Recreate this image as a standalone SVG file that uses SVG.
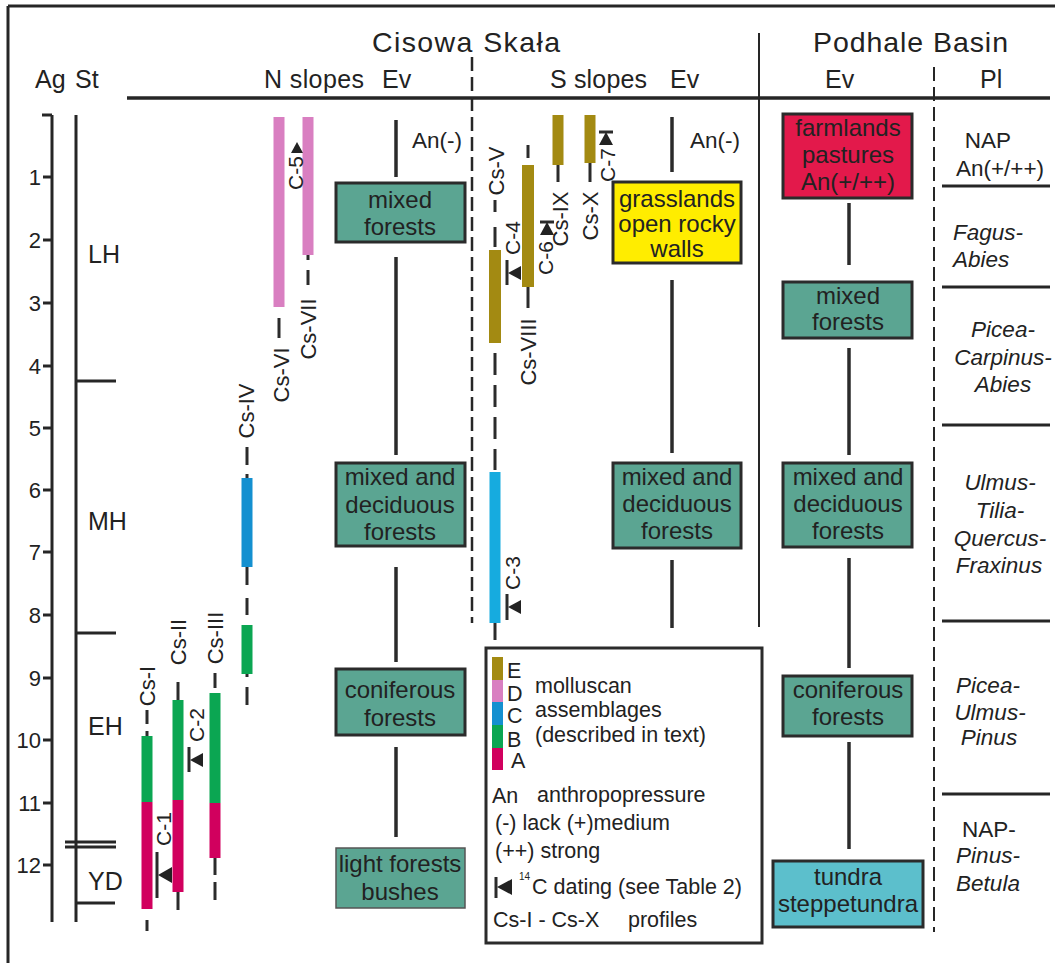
<svg xmlns="http://www.w3.org/2000/svg" width="1055" height="963" viewBox="0 0 1055 963">
<style>
text{font-family:"Liberation Sans",Arial,Helvetica,sans-serif;fill:#222}
.h1{font-size:28.5px}
.h2{font-size:25px}
.bt{font-size:24px;text-anchor:middle}
.lb{font-size:22px;text-anchor:middle}
.cl{font-size:21px;text-anchor:middle}
.num{font-size:22px;text-anchor:end}
.pl{font-size:22.5px}
.it{font-style:italic}
.lg{font-size:21.5px}
.ln{stroke:#2b2b2b;stroke-width:3.5;fill:none}
.pf{stroke:#2b2b2b;stroke-width:3;fill:none}
.ax{stroke:#262626;stroke-width:3;fill:none}
.bx{stroke:#2b2b2b;stroke-width:3}
.teal{fill:#5ba592}
.ol{fill:#a38a12}.pk{fill:#d97fc1}.bl{fill:#1490d0}.bl2{fill:#16abdf}.gr{fill:#0ba652}.rd{fill:#d1005e}
.mk{fill:#222}
</style>

<!-- frame -->
<g id="frame">
<line class="ax" x1="8" y1="6" x2="1055" y2="6"/>
<line class="ax" x1="8" y1="6" x2="8" y2="963"/>
<line x1="127" y1="98" x2="1050" y2="98" stroke="#262626" stroke-width="3.5"/>
<line x1="472" y1="57" x2="472" y2="623" stroke="#262626" stroke-width="2.5" stroke-dasharray="14 6"/>
<line x1="759" y1="33" x2="759" y2="627" stroke="#262626" stroke-width="2"/>
<line x1="934" y1="67" x2="934" y2="932" stroke="#262626" stroke-width="2" stroke-dasharray="14 6"/>
</g>

<!-- headers -->
<g id="headers">
<text class="h1" x="372" y="52" textLength="188" lengthAdjust="spacing">Cisowa Skała</text>
<text class="h1" x="813" y="52" textLength="195" lengthAdjust="spacing">Podhale Basin</text>
<text class="h2" x="35" y="88">Ag</text>
<text class="h2" x="75" y="88">St</text>
<text class="h2" x="264" y="88" textLength="100" lengthAdjust="spacing">N slopes</text>
<text class="h2" x="382" y="88">Ev</text>
<text class="h2" x="550" y="88" textLength="97" lengthAdjust="spacing">S slopes</text>
<text class="h2" x="670" y="88">Ev</text>
<text class="h2" x="825" y="88">Ev</text>
<text class="h2" x="980" y="88">Pl</text>
</g>

<!-- age axis -->
<g id="age-axis">
<line class="ax" x1="52" y1="115" x2="52" y2="922"/>
<line class="ax" x1="42" y1="115" x2="52" y2="115"/>
<g class="ax">
<line x1="43" y1="177" x2="52" y2="177"/>
<line x1="43" y1="240" x2="52" y2="240"/>
<line x1="43" y1="303" x2="52" y2="303"/>
<line x1="43" y1="366" x2="52" y2="366"/>
<line x1="43" y1="428" x2="52" y2="428"/>
<line x1="43" y1="490" x2="52" y2="490"/>
<line x1="43" y1="552" x2="52" y2="552"/>
<line x1="43" y1="615" x2="52" y2="615"/>
<line x1="43" y1="678" x2="52" y2="678"/>
<line x1="43" y1="740" x2="52" y2="740"/>
<line x1="43" y1="803" x2="52" y2="803"/>
<line x1="43" y1="865" x2="52" y2="865"/>
</g>
<text class="num" x="41" y="185">1</text>
<text class="num" x="41" y="248">2</text>
<text class="num" x="41" y="311">3</text>
<text class="num" x="41" y="374">4</text>
<text class="num" x="41" y="436">5</text>
<text class="num" x="41" y="498">6</text>
<text class="num" x="41" y="560">7</text>
<text class="num" x="41" y="623">8</text>
<text class="num" x="41" y="686">9</text>
<text class="num" x="41" y="748">10</text>
<text class="num" x="41" y="811">11</text>
<text class="num" x="41" y="873">12</text>
</g>

<!-- stratigraphy -->
<g id="stages">
<line class="ax" x1="76" y1="115" x2="76" y2="922"/>
<line class="ax" x1="76" y1="381" x2="116" y2="381"/>
<line class="ax" x1="76" y1="633" x2="116" y2="633"/>
<line class="ax" x1="65" y1="842" x2="116" y2="842"/>
<line class="ax" x1="65" y1="847" x2="116" y2="847"/>
<line class="ax" x1="76" y1="903" x2="115" y2="903"/>
<text class="h2" x="88" y="263">LH</text>
<text class="h2" x="88" y="530">MH</text>
<text class="h2" x="88" y="735">EH</text>
<text class="h2" x="88" y="890">YD</text>
</g>

<!-- N slopes profiles -->
<g id="Cs-I">
<text class="lb" transform="translate(147,686) rotate(-90)" dy="0.36em">Cs-I</text>
<line class="pf" x1="147" y1="710" x2="147" y2="724"/>
<line class="pf" x1="147" y1="731" x2="147" y2="736"/>
<rect class="gr" x="141.5" y="736" width="11" height="66"/>
<rect class="rd" x="141.5" y="802" width="11" height="107"/>
<line class="pf" x1="147" y1="920" x2="147" y2="931"/>
</g>
<g id="C-1">
<line class="pf" x1="157" y1="852" x2="157" y2="898"/>
<polygon class="mk" points="158,875 172,867 172,883"/>
<text class="cl" transform="translate(163,829) rotate(-90)" dy="0.36em">C-1</text>
</g>
<g id="Cs-II">
<text class="lb" transform="translate(178,642) rotate(-90)" dy="0.36em">Cs-II</text>
<line class="pf" x1="178" y1="682" x2="178" y2="700"/>
<rect class="gr" x="172.5" y="700" width="11" height="100"/>
<rect class="rd" x="172.5" y="800" width="11" height="92"/>
<line class="pf" x1="178" y1="892" x2="178" y2="910"/>
</g>
<g id="C-2">
<line class="pf" x1="189" y1="747" x2="189" y2="772"/>
<polygon class="mk" points="190,760 203,753 203,767"/>
<text class="cl" transform="translate(196,725) rotate(-90)" dy="0.36em">C-2</text>
</g>
<g id="Cs-III">
<text class="lb" transform="translate(215,638) rotate(-90)" dy="0.36em">Cs-III</text>
<line class="pf" x1="215" y1="673" x2="215" y2="688"/>
<rect class="gr" x="209.5" y="693" width="11" height="110"/>
<rect class="rd" x="209.5" y="803" width="11" height="55"/>
<line class="pf" x1="215" y1="858" x2="215" y2="875"/>
<line class="pf" x1="215" y1="882" x2="215" y2="900"/>
</g>
<g id="Cs-IV">
<text class="lb" transform="translate(246,411) rotate(-90)" dy="0.36em">Cs-IV</text>
<line class="pf" x1="247" y1="447" x2="247" y2="465"/>
<line class="pf" x1="247" y1="474" x2="247" y2="478"/>
<rect class="bl" x="241.5" y="478" width="11" height="89"/>
<line class="pf" x1="247" y1="567" x2="247" y2="585"/>
<line class="pf" x1="247" y1="598" x2="247" y2="615"/>
<rect class="gr" x="241.5" y="625" width="11" height="49"/>
<line class="pf" x1="247" y1="674" x2="247" y2="677"/>
<line class="pf" x1="247" y1="687" x2="247" y2="705"/>
</g>
<g id="Cs-VI">
<rect class="pk" x="273.5" y="117" width="11" height="190"/>
<line class="pf" x1="279" y1="318" x2="279" y2="338"/>
<text class="lb" transform="translate(281,375) rotate(-90)" dy="0.36em">Cs-VI</text>
</g>
<g id="Cs-VII">
<rect class="pk" x="302.5" y="117" width="11" height="138"/>
<line class="pf" x1="308" y1="255" x2="308" y2="260"/>
<line class="pf" x1="308" y1="270" x2="308" y2="285"/>
<text class="lb" transform="translate(308,329) rotate(-90)" dy="0.36em">Cs-VII</text>
</g>
<g id="C-5">
<polygon class="mk" points="297,142 291,153 303,153"/>
<text class="cl" transform="translate(295,173) rotate(-90)" dy="0.36em">C-5</text>
</g>

<!-- S slopes profiles -->
<g id="Cs-V">
<text class="lb" transform="translate(496,171) rotate(-90)" dy="0.36em">Cs-V</text>
<line class="pf" x1="495" y1="200" x2="495" y2="212"/>
<line class="pf" x1="495" y1="227" x2="495" y2="247"/>
<rect class="ol" x="489" y="250" width="12" height="93"/>
<line class="pf" x1="495" y1="353" x2="495" y2="470" stroke-dasharray="22 10"/>
<rect class="bl2" x="489.5" y="472" width="11" height="151"/>
<line class="pf" x1="495" y1="623" x2="495" y2="640"/>
</g>
<g id="C-3">
<line class="pf" x1="507" y1="594" x2="507" y2="620"/>
<polygon class="mk" points="508,607 521,600 521,614"/>
<text class="cl" transform="translate(512,573) rotate(-90)" dy="0.36em">C-3</text>
</g>
<g id="C-4">
<line class="pf" x1="507" y1="260" x2="507" y2="285"/>
<polygon class="mk" points="508,273 521,266 521,280"/>
<text class="cl" transform="translate(512,238) rotate(-90)" dy="0.36em">C-4</text>
</g>
<g id="Cs-VIII">
<line class="pf" x1="528" y1="145" x2="528" y2="158"/>
<rect class="ol" x="522" y="165" width="12" height="122"/>
<line class="pf" x1="528" y1="287" x2="528" y2="308"/>
<text class="lb" transform="translate(528,352) rotate(-90)" dy="0.36em">Cs-VIII</text>
</g>
<g id="C-6">
<line class="pf" x1="540" y1="222" x2="554" y2="222"/>
<polygon class="mk" points="547,222 540,235 554,235"/>
<text class="cl" transform="translate(545,258) rotate(-90)" dy="0.36em">C-6</text>
</g>
<g id="Cs-IX">
<rect class="ol" x="552.5" y="115" width="11" height="50"/>
<line class="pf" x1="558" y1="165" x2="558" y2="182"/>
<text class="lb" transform="translate(560,219) rotate(-90)" dy="0.36em">Cs-IX</text>
</g>
<g id="Cs-X">
<rect class="ol" x="584.5" y="115" width="11" height="48"/>
<line class="pf" x1="590" y1="163" x2="590" y2="182"/>
<text class="lb" transform="translate(590,216) rotate(-90)" dy="0.36em">Cs-X</text>
</g>
<g id="C-7">
<line class="pf" x1="599" y1="132" x2="613" y2="132"/>
<polygon class="mk" points="606,132 599,145 613,145"/>
<text class="cl" transform="translate(607,165) rotate(-90)" dy="0.36em">C-7</text>
</g>

<!-- connectors -->
<g id="connectors">
<line class="ln" x1="396" y1="120" x2="396" y2="177"/>
<line class="ln" x1="396" y1="257" x2="396" y2="455"/>
<line class="ln" x1="396" y1="567" x2="396" y2="662"/>
<line class="ln" x1="396" y1="747" x2="396" y2="837"/>
<line class="ln" x1="672" y1="117" x2="672" y2="172"/>
<line class="ln" x1="672" y1="280" x2="672" y2="453"/>
<line class="ln" x1="672" y1="560" x2="672" y2="628"/>
<line class="ln" x1="849" y1="203" x2="849" y2="265"/>
<line class="ln" x1="849" y1="348" x2="849" y2="455"/>
<line class="ln" x1="849" y1="558" x2="849" y2="668"/>
<line class="ln" x1="849" y1="742" x2="849" y2="849"/>
</g>

<!-- N Ev -->
<g id="an-n"><text class="pl" x="412" y="148">An(-)</text></g>
<g id="n-mixed">
<rect class="teal bx" x="336" y="183" width="129" height="59"/>
<text class="bt" x="400" y="208">mixed</text>
<text class="bt" x="400" y="235">forests</text>
</g>
<g id="n-mixed-deciduous">
<rect class="teal bx" x="336" y="463" width="129" height="83"/>
<text class="bt" x="400" y="485">mixed and</text>
<text class="bt" x="400" y="513">deciduous</text>
<text class="bt" x="400" y="540">forests</text>
</g>
<g id="n-coniferous">
<rect class="teal bx" x="336" y="669" width="129" height="66"/>
<text class="bt" x="400" y="698">coniferous</text>
<text class="bt" x="400" y="726">forests</text>
</g>
<g id="n-light">
<rect class="teal" x="336" y="848" width="129" height="60" stroke="#555" stroke-width="1.5"/>
<text class="bt" x="400" y="872">light forests</text>
<text class="bt" x="400" y="900">bushes</text>
</g>

<!-- S Ev -->
<g id="an-s"><text class="pl" x="690" y="148">An(-)</text></g>
<g id="s-grasslands">
<rect class="bx" x="613" y="182" width="128" height="81" fill="#ffed00"/>
<text class="bt" x="677" y="207">grasslands</text>
<text class="bt" x="677" y="232">open rocky</text>
<text class="bt" x="677" y="257">walls</text>
</g>
<g id="s-mixed-deciduous">
<rect class="teal bx" x="613" y="463" width="128" height="85"/>
<text class="bt" x="677" y="485">mixed and</text>
<text class="bt" x="677" y="512">deciduous</text>
<text class="bt" x="677" y="539">forests</text>
</g>

<!-- Podhale Ev -->
<g id="p-farmlands">
<rect class="bx" x="783" y="114" width="129" height="84" fill="#e3194b"/>
<text class="bt" x="848" y="136">farmlands</text>
<text class="bt" x="848" y="163">pastures</text>
<text class="bt" x="848" y="190">An(+/++)</text>
</g>
<g id="p-mixed">
<rect class="teal bx" x="783" y="282" width="129" height="56"/>
<text class="bt" x="848" y="304">mixed</text>
<text class="bt" x="848" y="330">forests</text>
</g>
<g id="p-mixed-deciduous">
<rect class="teal bx" x="783" y="463" width="129" height="84"/>
<text class="bt" x="848" y="485">mixed and</text>
<text class="bt" x="848" y="512">deciduous</text>
<text class="bt" x="848" y="539">forests</text>
</g>
<g id="p-coniferous">
<rect class="teal bx" x="783" y="676" width="129" height="60"/>
<text class="bt" x="848" y="698">coniferous</text>
<text class="bt" x="848" y="725">forests</text>
</g>
<g id="p-tundra">
<rect class="bx" x="773" y="861" width="150" height="66" fill="#5cbfcc" stroke-width="2.5"/>
<text class="bt" x="848" y="885">tundra</text>
<text class="bt" x="848" y="912">steppetundra</text>
</g>

<!-- Pl zones -->
<g id="pl-zones">
<g class="ax">
<line x1="942" y1="186" x2="1050" y2="186"/>
<line x1="942" y1="287" x2="1050" y2="287"/>
<line x1="942" y1="425" x2="1050" y2="425"/>
<line x1="942" y1="621" x2="1050" y2="621"/>
<line x1="942" y1="794" x2="1050" y2="794"/>
</g>
<text class="pl" x="988" y="148" text-anchor="middle">NAP</text>
<text class="pl" x="1000" y="176" text-anchor="middle">An(+/++)</text>
<text class="pl it" x="953" y="240">Fagus-</text>
<text class="pl it" x="953" y="267">Abies</text>
<text class="pl it" x="1003" y="337" text-anchor="middle">Picea-</text>
<text class="pl it" x="1003" y="365" text-anchor="middle">Carpinus-</text>
<text class="pl it" x="1003" y="392" text-anchor="middle">Abies</text>
<text class="pl it" x="1000" y="490" text-anchor="middle">Ulmus-</text>
<text class="pl it" x="1000" y="518" text-anchor="middle">Tilia-</text>
<text class="pl it" x="1000" y="546" text-anchor="middle">Quercus-</text>
<text class="pl it" x="999" y="573" text-anchor="middle">Fraxinus</text>
<text class="pl it" x="988" y="693" text-anchor="middle">Picea-</text>
<text class="pl it" x="990" y="720" text-anchor="middle">Ulmus-</text>
<text class="pl it" x="989" y="745" text-anchor="middle">Pinus</text>
<text class="pl" x="989" y="837" text-anchor="middle">NAP-</text>
<text class="pl it" x="988" y="863" text-anchor="middle">Pinus-</text>
<text class="pl it" x="988" y="891" text-anchor="middle">Betula</text>
</g>

<!-- legend -->
<g id="legend">
<rect x="486" y="648" width="276" height="295" fill="#fff" stroke="#2b2b2b" stroke-width="3"/>
<rect class="ol" x="492" y="657" width="11" height="23"/>
<rect class="pk" x="492" y="680" width="11" height="22"/>
<rect class="bl" x="492" y="702" width="11" height="23"/>
<rect class="gr" x="492" y="725" width="11" height="23"/>
<rect class="rd" x="492" y="748" width="11" height="22"/>
<text class="lg" x="507" y="678">E</text>
<text class="lg" x="507" y="701">D</text>
<text class="lg" x="507" y="723">C</text>
<text class="lg" x="507" y="747">B</text>
<text class="lg" x="511" y="768">A</text>
<text class="lg" x="535" y="693">molluscan</text>
<text class="lg" x="535" y="717">assemblages</text>
<text class="lg" x="535" y="742">(described in text)</text>
<text class="lg" x="492" y="803">An</text>
<text class="lg" x="537" y="802">anthropopressure</text>
<text class="lg" x="495" y="830">(-) lack (+)medium</text>
<text class="lg" x="495" y="858">(++) strong</text>
<line class="pf" x1="496" y1="877" x2="496" y2="898"/>
<polygon class="mk" points="497,887 512,879 512,895"/>
<text x="519" y="880" font-size="10">14</text>
<text class="lg" x="532" y="894">C dating (see Table 2)</text>
<text class="lg" x="493" y="927">Cs-I - Cs-X</text>
<text class="lg" x="628" y="927">profiles</text>
</g>
</svg>
